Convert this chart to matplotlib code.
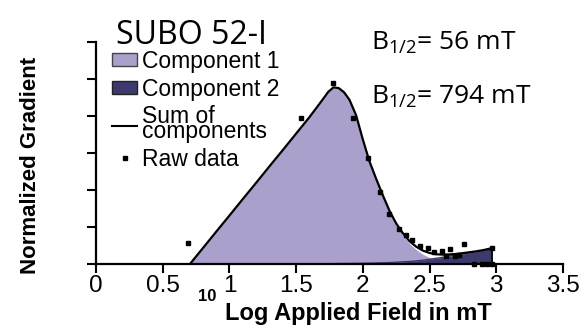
import matplotlib
matplotlib.use("Agg")
import matplotlib.pyplot as plt
from matplotlib.patches import Patch
from matplotlib.lines import Line2D
import numpy as np

plt.rcParams['font.family'] = ['Liberation Sans', 'DejaVu Sans']
plt.rcParams['mathtext.fontset'] = 'custom'
plt.rcParams['mathtext.rm'] = 'Open Sans'
plt.rcParams['mathtext.it'] = 'Open Sans:italic'

# log10 field grid and the two unmixed components
log_field = [0.705, 0.80, 0.90, 1.00, 1.10, 1.20, 1.30, 1.40, 1.50, 1.60, 1.65, 1.70,
             1.74, 1.78, 1.82, 1.86, 1.90, 1.95, 2.00, 2.05, 2.10, 2.15, 2.20, 2.25,
             2.30, 2.35, 2.40, 2.45, 2.50, 2.55, 2.60, 2.65, 2.70, 2.75, 2.80, 2.85,
             2.90, 2.95, 2.97]
comp1 = [0.0, 0.084, 0.173, 0.261, 0.35, 0.438, 0.527, 0.615, 0.704, 0.792, 0.84, 0.888,
         0.928, 0.953, 0.948, 0.925, 0.885, 0.80, 0.67, 0.55, 0.455, 0.365, 0.28, 0.21,
         0.155, 0.11, 0.077, 0.052, 0.034, 0.022, 0.014, 0.009, 0.006, 0.004, 0.003, 0.002,
         0.001, 0.0, 0.0]
comp2 = [0.0, 0.0, 0.0, 0.0, 0.0, 0.0, 0.0, 0.0, 0.0, 0.001, 0.001, 0.001,
         0.001, 0.001, 0.002, 0.002, 0.002, 0.003, 0.003, 0.004, 0.005, 0.006, 0.007, 0.009,
         0.011, 0.013, 0.016, 0.020, 0.025, 0.030, 0.036, 0.042, 0.048, 0.054, 0.060, 0.066,
         0.073, 0.082, 0.088]

# measured gradient points
raw_x = [0.69, 1.54, 1.78, 1.93, 2.04, 2.13, 2.20, 2.27, 2.32, 2.37, 2.43, 2.49,
         2.53, 2.59, 2.62, 2.65, 2.69, 2.72, 2.76, 2.83, 2.89, 2.93, 2.97, 2.97]
raw_y = [0.115, 0.79, 0.98, 0.79, 0.57, 0.39, 0.27, 0.19, 0.155, 0.13, 0.097, 0.085,
         0.066, 0.07, 0.043, 0.081, 0.04, 0.049, 0.108, 0.0, 0.0, 0.0, 0.0, 0.085]

b_half = [56, 794]

lav = '#ab9fcb'
navy = '#3c3a6c'

x = np.array(log_field)
c1 = np.array(comp1)
c2 = np.array(comp2)
total = c1 + c2

fig = plt.figure(figsize=(5.87, 3.27), dpi=100)
ax = fig.add_axes([0.1635, 0.193, 0.7955, 0.679])

ax.fill_between(x, 0, c1, color=lav, lw=0)
ax.fill_between(x, 0, c2, color=navy, lw=0)
ax.plot(x, c2, color=navy, lw=1)
ax.plot(x, total, color='black', lw=1.6)
ax.plot([x[-1], x[-1]], [0, total[-1]], color='black', lw=1.2)
ax.plot(raw_x, raw_y, 's', color='black', ms=3.2, clip_on=False, zorder=5)

ax.set_xlim(0, 3.5)
ax.set_ylim(0, 1.2)
ax.set_xticks(np.arange(0, 3.51, 0.5))
ax.set_xticklabels(['0', '0.5', '1', '1.5', '2', '2.5', '3', '3.5'], fontsize=17.5)
ax.set_yticks(np.arange(0, 1.21, 0.2))
ax.set_yticklabels([])
ax.tick_params(direction='out', length=6.5, width=1.5, pad=1.5)
for side in ['top', 'right']:
    ax.spines[side].set_visible(False)
for side in ['left', 'bottom']:
    ax.spines[side].set_linewidth(1.6)

fig.text(0.052, 0.495, 'Normalized Gradient', rotation=90, fontsize=16,
         fontweight='bold', ha='center', va='center')
fig.text(0.61, 0.04, 'Log Applied Field in mT', fontsize=17, fontweight='bold',
         ha='center', va='center')
fig.text(0.353, 0.093, '10', fontsize=12, fontweight='bold', ha='center', va='center')

fig.text(0.327, 0.892, 'SUBO 52-I', fontsize=23, family='Open Sans',
         ha='center', va='center')
fig.text(0.632, 0.868, r'B$_{1/2}$= %d mT' % b_half[0], fontsize=19,
         family='Open Sans', ha='left', va='center')
fig.text(0.632, 0.703, r'B$_{1/2}$= %d mT' % b_half[1], fontsize=19,
         family='Open Sans', ha='left', va='center')

handles = [Patch(facecolor=lav, edgecolor='#444444', lw=1),
           Patch(facecolor=navy, edgecolor='#222222', lw=1),
           Line2D([], [], color='black', lw=1.5),
           Line2D([], [], marker='s', ls='', color='black', ms=3.5)]
labels = ['Component 1', 'Component 2', 'Sum of\ncomponents', 'Raw data']
leg = ax.legend(handles, labels, loc='upper left', bbox_to_anchor=(112 / 587, 1 - 50 / 327),
                bbox_transform=fig.transFigure, frameon=False, fontsize=16.5,
                handlelength=1.1, handleheight=0.5, handletextpad=0.2,
                labelspacing=0.2, borderpad=0, borderaxespad=0)
for t in leg.get_texts():
    t.set_linespacing(0.55)

fig.savefig('out.png', dpi=100)
